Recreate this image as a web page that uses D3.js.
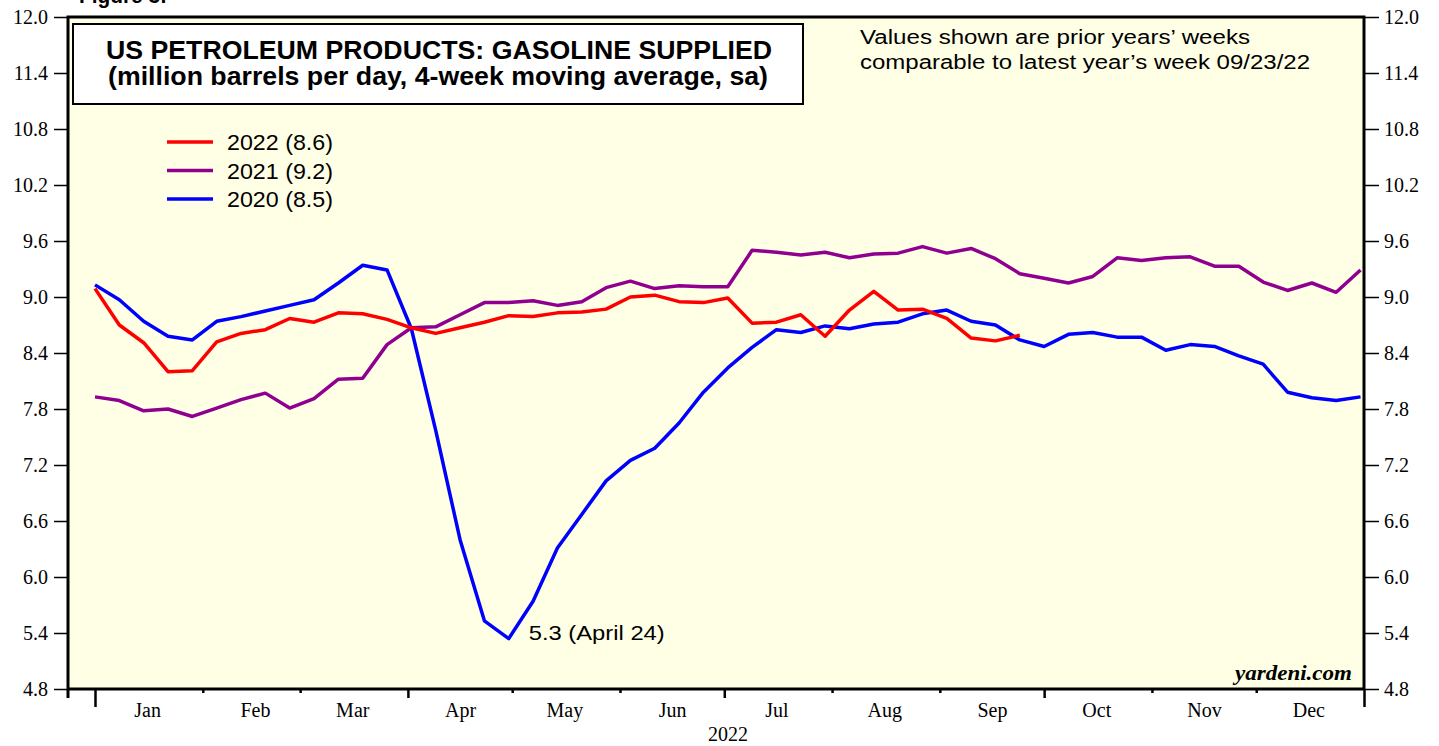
<!DOCTYPE html>
<html>
<head>
<meta charset="utf-8">
<script src="https://cdn.jsdelivr.net/npm/d3@7"></script>
<style>
  body { margin: 0; background: #fff; }
  .ax text { font-family: "Liberation Serif", "Times New Roman", serif; font-size: 20px; fill: #000; }
  .ax path { display: none; }
  .ax line { stroke: #000; stroke-width: 1.5px; }
</style>
</head>
<body>
<svg id="chart" width="1439" height="746"></svg>
<script>
// week dates (saturdays of 2022)
var weeks = ["2022-01-01","2022-01-08","2022-01-15","2022-01-22","2022-01-29",
  "2022-02-05","2022-02-12","2022-02-19","2022-02-26",
  "2022-03-05","2022-03-12","2022-03-19","2022-03-26",
  "2022-04-02","2022-04-09","2022-04-16","2022-04-23","2022-04-30",
  "2022-05-07","2022-05-14","2022-05-21","2022-05-28",
  "2022-06-04","2022-06-11","2022-06-18","2022-06-25",
  "2022-07-02","2022-07-09","2022-07-16","2022-07-23","2022-07-30",
  "2022-08-06","2022-08-13","2022-08-20","2022-08-27",
  "2022-09-03","2022-09-10","2022-09-17","2022-09-24",
  "2022-10-01","2022-10-08","2022-10-15","2022-10-22","2022-10-29",
  "2022-11-05","2022-11-12","2022-11-19","2022-11-26",
  "2022-12-03","2022-12-10","2022-12-17","2022-12-24","2022-12-31"];

var gas2022 = [9.09,8.70,8.51,8.20,8.21,8.52,8.61,8.65,8.77,8.73,8.83,8.82,8.76,8.67,8.61,
  8.67,8.73,8.80,8.79,8.83,8.84,8.87,9.00,9.02,8.95,8.94,8.99,8.72,8.73,8.81,8.58,8.86,
  9.06,8.86,8.87,8.77,8.56,8.53,8.59];

var gas2021 = [7.93,7.89,7.78,7.80,7.72,7.81,7.90,7.97,7.81,7.91,8.12,8.13,8.49,8.67,8.68,
  8.81,8.94,8.94,8.96,8.91,8.95,9.10,9.17,9.09,9.12,9.11,9.11,9.50,9.48,9.45,9.48,9.42,
  9.46,9.47,9.54,9.47,9.52,9.41,9.25,9.20,9.15,9.22,9.42,9.39,9.42,9.43,9.33,9.33,9.16,
  9.07,9.15,9.05,9.29];

var gas2020 = [9.13,8.97,8.74,8.58,8.54,8.74,8.79,8.85,8.91,8.97,9.15,9.34,9.29,8.66,7.57,
  6.40,5.53,5.34,5.74,6.31,6.67,7.03,7.25,7.38,7.65,7.98,8.24,8.46,8.65,8.62,8.69,8.66,
  8.71,8.73,8.82,8.86,8.74,8.70,8.54,8.47,8.60,8.62,8.57,8.57,8.43,8.49,8.47,8.37,8.28,
  7.98,7.92,7.89,7.93];

var seriesNames = ["2022 (8.6)", "2021 (9.2)", "2020 (8.5)"];
var seriesColors = ["#ff0000", "#900090", "#0000ff"];
var yTicks = [4.8,5.4,6.0,6.6,7.2,7.8,8.4,9.0,9.6,10.2,10.8,11.4,12.0];
var monthNames = ["Jan","Feb","Mar","Apr","May","Jun","Jul","Aug","Sep","Oct","Nov","Dec"];

var svg = d3.select("#chart");
var pL = 68, pR = 1364, pT = 17, pB = 689;
var parse = d3.timeParse("%Y-%m-%d");
var sans = "Liberation Sans, Arial, sans-serif";

var x = d3.scaleTime()
  .domain([new Date(2022,0,1), new Date(2023,0,1)])
  .range([95, pR]);
var y = d3.scaleLinear().domain([4.8, 12]).range([pB, pT]);

svg.append("rect")
  .attr("x", pL).attr("y", pT)
  .attr("width", pR - pL).attr("height", pB - pT)
  .attr("fill", "#ffffe6");

// partial figure caption at very top (cut off in original)
svg.append("text").attr("x", 79).attr("y", 3)
  .style("font-family", sans)
  .style("font-weight", "bold").style("font-size", "22px")
  .attr("textLength", 88).attr("lengthAdjust", "spacingAndGlyphs")
  .text("Figure 3:");

// y axes
svg.append("g").attr("class", "ax")
  .attr("transform", "translate(" + pL + ",0)")
  .call(d3.axisLeft(y).tickValues(yTicks).tickFormat(d3.format(".1f")).tickSize(14).tickPadding(6));
svg.append("g").attr("class", "ax")
  .attr("transform", "translate(" + pR + ",0)")
  .call(d3.axisRight(y).tickValues(yTicks).tickFormat(d3.format(".1f")).tickSize(15).tickPadding(5));

// x axis ticks: months short, quarters medium, year ends long
var monthStarts = d3.range(0, 13).map(function(m){ return new Date(2022, m, 1); });
var xa = svg.append("g").attr("class", "ax")
  .attr("transform", "translate(0," + pB + ")")
  .call(d3.axisBottom(x).tickValues(monthStarts).tickFormat("").tickSize(4));
xa.selectAll(".tick line")
  .attr("y2", function(d, i){ return (i == 0 || i == 12) ? 18 : (i % 3 == 0 ? 9 : 4); })
  .style("stroke-width", "2.5px");

var monthMids = d3.range(0, 12).map(function(m){ return new Date(2022, m, 16); });
svg.append("g").attr("class", "ax")
  .attr("transform", "translate(0," + pB + ")")
  .call(d3.axisBottom(x).tickValues(monthMids)
    .tickFormat(function(d, i){ return monthNames[i]; }).tickSize(0).tickPadding(14));

svg.append("text").attr("x", 728).attr("y", 741)
  .attr("text-anchor", "middle")
  .style("font-family", "Liberation Serif, serif").style("font-size", "20px")
  .text("2022");

// lines
var line = d3.line()
  .x(function(d, i){ return x(parse(weeks[i])); })
  .y(function(d){ return y(d); });

[gas2020, gas2021, gas2022].forEach(function(s, j){
  svg.append("path").datum(s)
    .attr("d", line)
    .attr("fill", "none")
    .attr("stroke", seriesColors[2 - j])
    .attr("stroke-width", 3.5)
    .attr("stroke-linejoin", "round");
});

// frame
svg.append("rect")
  .attr("x", pL).attr("y", pT)
  .attr("width", pR - pL).attr("height", pB - pT)
  .attr("fill", "none").attr("stroke", "#000").attr("stroke-width", 3);
svg.append("line").attr("x1", pL).attr("x2", pL).attr("y1", pB).attr("y2", 698)
  .attr("stroke", "#000").attr("stroke-width", 3);

// title box
svg.append("rect").attr("x", 73).attr("y", 24).attr("width", 730).attr("height", 80)
  .attr("fill", "#fff").attr("stroke", "#000").attr("stroke-width", 2);
var title = svg.append("text")
  .style("font-family", sans)
  .style("font-weight", "bold").style("font-size", "25px");
title.append("tspan").attr("x", 106).attr("y", 59)
  .attr("textLength", 666).attr("lengthAdjust", "spacingAndGlyphs")
  .text("US PETROLEUM PRODUCTS: GASOLINE SUPPLIED");
title.append("tspan").attr("x", 108).attr("y", 85)
  .attr("textLength", 660).attr("lengthAdjust", "spacingAndGlyphs")
  .text("(million barrels per day, 4-week moving average, sa)");

// note
var note = svg.append("text")
  .style("font-family", sans).style("font-size", "20px");
note.append("tspan").attr("x", 860).attr("y", 44)
  .attr("textLength", 390).attr("lengthAdjust", "spacingAndGlyphs")
  .text("Values shown are prior years\u2019 weeks");
note.append("tspan").attr("x", 860).attr("y", 69)
  .attr("textLength", 450).attr("lengthAdjust", "spacingAndGlyphs")
  .text("comparable to latest year\u2019s week 09/23/22");

// legend
var lg = svg.append("g").attr("transform", "translate(167,142)");
seriesNames.forEach(function(n, i){
  lg.append("line").attr("x1", 0).attr("x2", 46).attr("y1", i * 28.5).attr("y2", i * 28.5)
    .attr("stroke", seriesColors[i]).attr("stroke-width", 3.5);
  lg.append("text").attr("x", 60).attr("y", i * 28.5 + 8)
    .style("font-family", sans).style("font-size", "22px")
    .attr("textLength", 106).attr("lengthAdjust", "spacingAndGlyphs")
    .text(n);
});

// annotation at trough
svg.append("text").attr("x", x(parse(weeks[17])) + 20).attr("y", y(gas2020[17]) + 1)
  .style("font-family", sans).style("font-size", "21px")
  .attr("textLength", 136).attr("lengthAdjust", "spacingAndGlyphs")
  .text("5.3 (April 24)");

svg.append("text").attr("x", 1235).attr("y", 680)
  .style("font-family", "Liberation Serif, serif").style("font-weight", "bold")
  .style("font-style", "italic").style("font-size", "21px")
  .attr("textLength", 117).attr("lengthAdjust", "spacingAndGlyphs")
  .text("yardeni.com");
</script>
</body>
</html>
